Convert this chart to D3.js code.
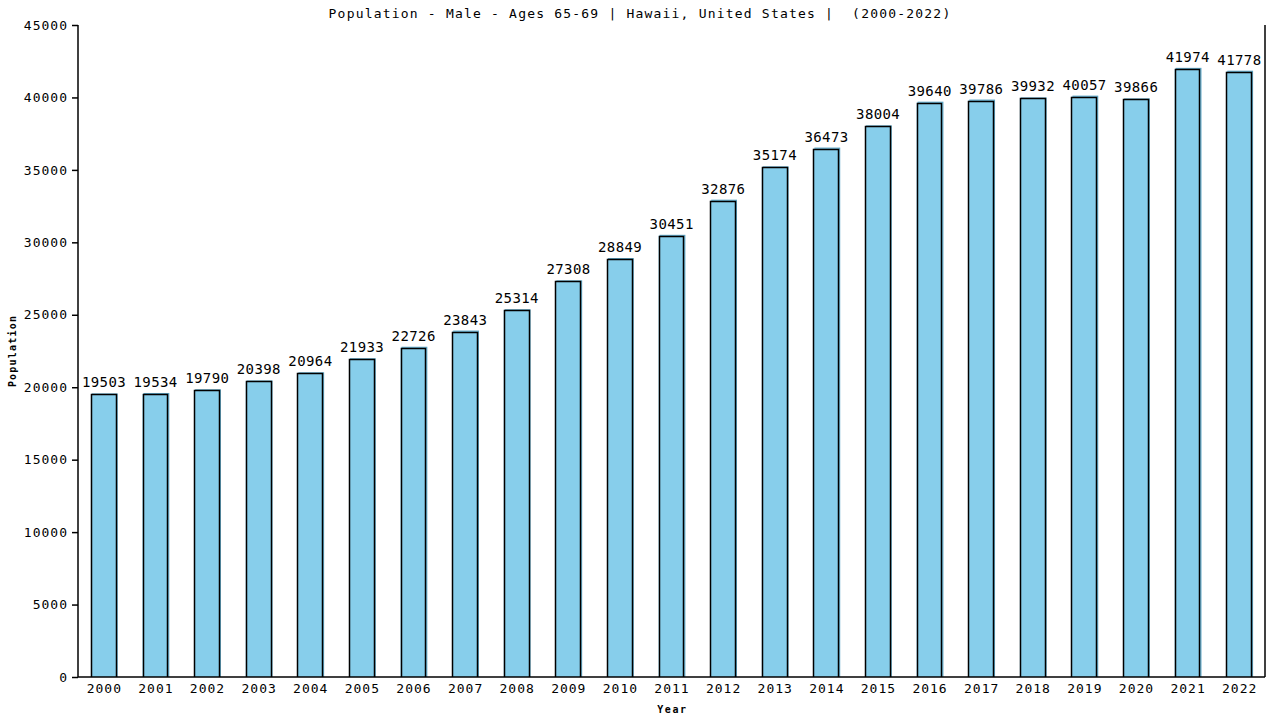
<!DOCTYPE html>
<html>
<head>
<meta charset="utf-8">
<script src="https://cdnjs.cloudflare.com/ajax/libs/d3/7.8.5/d3.min.js"></script>
<style>
  body { margin: 0; background: #fff; }
  svg text { font-family: "DejaVu Sans Mono", monospace; fill: #000; }
</style>
</head>
<body>
<div id="chart"></div>
<script>
// data
const years = ["2000", "2001", "2002", "2003", "2004", "2005", "2006", "2007", "2008", "2009", "2010", "2011",
               "2012", "2013", "2014", "2015", "2016", "2017", "2018", "2019", "2020", "2021", "2022"];
const population = [19503, 19534, 19790, 20398, 20964, 21933, 22726, 23843, 25314, 27308, 28849, 30451,
                    32876, 35174, 36473, 38004, 39640, 39786, 39932, 40057, 39866, 41974, 41778];
const yTicks = [0, 5000, 10000, 15000, 20000, 25000, 30000, 35000, 40000, 45000];

const W = 1280, H = 720;
const margin = { top: 25, right: 15, bottom: 43, left: 78 };
const innerW = W - margin.left - margin.right;
const innerH = H - margin.top - margin.bottom;

const svg = d3.select("#chart").append("svg")
    .attr("width", W)
    .attr("height", H);

const g = svg.append("g")
    .attr("transform", `translate(${margin.left},${margin.top})`);

const x = d3.scaleBand()
    .domain(years)
    .range([0, innerW])
    .paddingInner(0.5)
    .paddingOuter(0.25);

const y = d3.scaleLinear()
    .domain([0, 45000])
    .range([innerH, 0]);

// bars: fill slightly offset, then black outline on left/top/right
const bars = g.selectAll(".bar")
    .data(years.map((yr, i) => ({ year: yr, value: population[i] })))
    .join("g")
    .attr("class", "bar");

bars.append("rect")
    .attr("x", d => x(d.year) + 1)
    .attr("y", d => y(d.value) - 1)
    .attr("width", x.bandwidth())
    .attr("height", d => innerH - y(d.value) + 1)
    .attr("fill", "#5fa8c8");

bars.append("rect")
    .attr("x", d => x(d.year))
    .attr("y", d => y(d.value))
    .attr("width", x.bandwidth())
    .attr("height", d => innerH - y(d.value))
    .attr("fill", "#87ceeb");

bars.append("path")
    .attr("d", d => {
        const x0 = Math.round(x(d.year)) + 0.5;
        const x1 = Math.round(x(d.year) + x.bandwidth()) - 0.5;
        const y0 = Math.round(y(d.value)) + 0.5;
        return `M${x0},${innerH}V${y0}H${x1}V${innerH}`;
    })
    .attr("fill", "none")
    .attr("stroke", "#000")
    .attr("stroke-width", 1.5);

bars.append("text")
    .attr("x", d => x(d.year) + x.bandwidth() / 2 + 0.2)
    .attr("y", d => y(d.value) - 7)
    .attr("text-anchor", "middle")
    .style("font-size", "14px")
    .style("letter-spacing", "0.4px")
    .text(d => d.value);

// axes
const yAxis = g.append("g")
    .call(d3.axisLeft(y).tickValues(yTicks).tickSize(6).tickPadding(4).tickFormat(d3.format("d")));
yAxis.select(".domain").attr("stroke", "#000").attr("stroke-width", 1.5).attr("d", `M0,${innerH}V0`);
yAxis.selectAll(".tick line").attr("stroke", "#000").attr("stroke-width", 1.5);
yAxis.selectAll(".tick text")
    .style("font-size", "13px")
    .style("letter-spacing", "1px")
    .style("font-family", "DejaVu Sans Mono, monospace");

const xAxis = g.append("g")
    .attr("transform", `translate(0,${innerH})`)
    .call(d3.axisBottom(x).tickSize(0).tickPadding(7));
xAxis.select(".domain").attr("stroke", "#000").attr("stroke-width", 1.5).attr("d", `M0,0H${innerW}`);
xAxis.selectAll(".tick text")
    .style("font-size", "13px")
    .style("letter-spacing", "1px")
    .attr("dx", "0.5")
    .style("font-family", "DejaVu Sans Mono, monospace");

// right border
g.append("line")
    .attr("x1", innerW).attr("x2", innerW)
    .attr("y1", 0).attr("y2", innerH)
    .attr("stroke", "#000")
    .attr("stroke-width", 1.5);

// titles
svg.append("text")
    .attr("x", 640)
    .attr("y", 18)
    .attr("text-anchor", "middle")
    .style("font-size", "13px")
    .style("letter-spacing", "1.2px")
    .style("white-space", "pre")
    .text("Population - Male - Ages 65-69 | Hawaii, United States |  (2000-2022)");

svg.append("text")
    .attr("x", margin.left + innerW / 2 + 1)
    .attr("y", 713)
    .attr("text-anchor", "middle")
    .style("font-size", "10px")
    .style("font-weight", "bold")
    .style("letter-spacing", "1.6px")
    .text("Year");

svg.append("text")
    .attr("transform", `translate(16,${margin.top + innerH / 2}) rotate(-90)`)
    .attr("text-anchor", "middle")
    .style("font-size", "10px")
    .style("font-weight", "bold")
    .style("letter-spacing", "1.2px")
    .text("Population");
</script>
</body>
</html>
